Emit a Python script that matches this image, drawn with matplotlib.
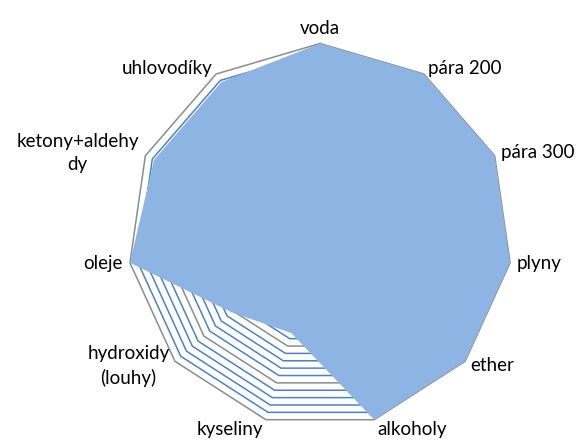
import numpy as np
import matplotlib
matplotlib.use("Agg")
import matplotlib.pyplot as plt

# categories clockwise from the top, labels wrapped like in the original
categories = ["voda", "pára 200", "pára 300", "plyny", "ether", "alkoholy",
              "kyseliny", "hydroxidy\n(louhy)", "oleje", "ketony+aldehy\ndy", "uhlovodíky"]
values = [1.0, 1.0, 1.0, 1.0, 1.0, 1.0, 0.53, 0.61, 1.0, 0.95, 0.95]

# grid rings: every 0.04, gray every 0.2
ring_levels = np.round(np.arange(0.04, 1.0001, 0.04), 2)

FILL = "#8EB4E3"
BLUE = "#4F81BD"
GRAY = "#8C8C8C"

n = len(categories)
ang = np.pi / 2 - np.arange(n) * 2 * np.pi / n
dx, dy = np.cos(ang), np.sin(ang)

fig = plt.figure(figsize=(5.82, 4.41), dpi=100)
ax = fig.add_axes([0, 0, 1, 1])
R = 192.0
ax.set_xlim(-320 / R, (582 - 320) / R)
ax.set_ylim(-(441 - 235.5) / R, 235.5 / R)
ax.axis("off")

for lv in ring_levels:
    col = GRAY if abs(lv * 5 - round(lv * 5)) < 1e-6 else BLUE
    xs = np.append(dx * lv, dx[0] * lv)
    ys = np.append(dy * lv, dy[0] * lv)
    ax.plot(xs, ys, color=col, lw=1.1, zorder=1, solid_joinstyle="miter")

v = np.array(values)
ax.fill(dx * v, dy * v, color=FILL, lw=0, zorder=2)

pad = 7 / R
for i, lab in enumerate(categories):
    c, s = dx[i], dy[i]
    ha = "left" if c > 0.15 else ("right" if c < -0.15 else "center")
    va = "bottom" if s > 0.9 else "center"
    x, y = c * (1 + pad), s * (1 + pad)
    if s < -0.9:
        x, y = c + np.sign(c) * 3 / R, s - 10 / R
    ax.text(x, y, lab, ha=ha, va=va, ma="center",
            fontsize=13.5, family=["Lato", "DejaVu Sans"], color="#000000",
            linespacing=1.45)

fig.savefig("out.png", dpi=100)
plt.close(fig)
